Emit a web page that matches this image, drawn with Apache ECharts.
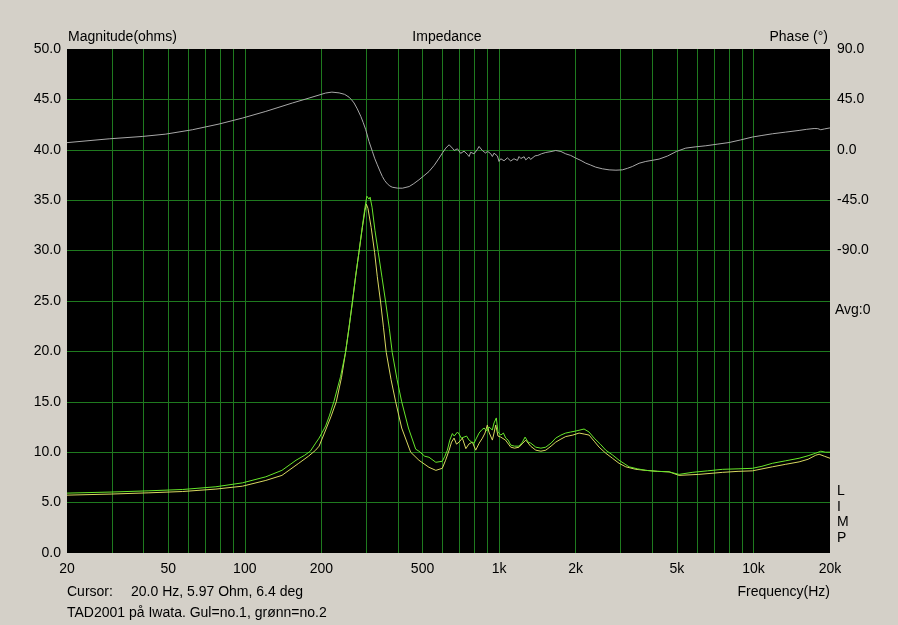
<!DOCTYPE html>
<html>
<head>
<meta charset="utf-8">
<script src="https://cdn.jsdelivr.net/npm/echarts@6/dist/echarts.min.js"></script>
<style>
html,body{margin:0;padding:0;background:#d4d0c8;}
#c{width:898px;height:625px;}
</style>
</head>
<body>
<div id="c"></div>
<script>
// ---- data ----
const freqGrid = [30,40,50,60,70,80,90,100,200,300,400,500,600,700,800,900,1000,2000,3000,4000,5000,6000,7000,8000,9000,10000];
const freqLabels = [20,50,100,200,500,1000,2000,5000,10000,20000];
const ohmLabels = [0,5,10,15,20,25,30,35,40,45,50];
const ohmGrid = [5,10,15,20,25,30,35,40,45];
const phaseLabels = [90,45,0,-45,-90];

// Phase (deg) vs frequency (Hz)
const phase = [[20,6.4],[29.3,9.8],[39.5,11.9],[48.9,14],[62.2,17.9],[79.2,23],[97.8,28.3],[121,34.3],[154,41.8],[179,46.2],[208,50.7],[220,51.5],[235,50.8],[247,49.5],[257,47],[263,44.6],[269,41.8],[277,36.5],[286,29.8],[292,24.5],[299,17.9],[308,7.4],[317.5,-1.5],[324,-7.5],[332,-13.4],[340,-19],[347.5,-23.8],[355,-27.5],[363.6,-30.4],[372,-32.3],[380,-33.4],[398,-34.2],[416.5,-34.3],[443,-32.8],[462,-30.2],[484,-26.8],[506,-23.2],[530,-19.4],[556,-13.8],[581,-7.4],[600,-2.5],[617,1.5],[626,3.2],[636,4.5],[645,2.8],[655,1.5],[666,-0.6],[676,-1.5],[686,0.9],[696,0],[706,-3.2],[717,-4.5],[728,-1.2],[740,0],[750,-4],[762,-6],[773,-2.2],[785,-1.5],[797,-3.6],[809,-4.5],[822,0.5],[834,3],[846,1.5],[859,-0.6],[872,-2.2],[886,-3],[899,-1.2],[913,-0.6],[927,-3.5],[941,-6],[955,-3],[970,-1.5],[985,-5.5],[999,-10.4],[1015,-8],[1030,-6.5],[1046,-9.8],[1062,-9],[1078,-7.2],[1095,-7],[1111,-10],[1128,-10.4],[1144,-8],[1160,-7.5],[1180,-9.5],[1198,-6],[1217,-7.8],[1235,-8.5],[1254,-6.2],[1273,-9],[1292,-7.6],[1310,-6.5],[1330,-8.6],[1352,-7.4],[1385,-5.4],[1420,-5],[1470,-3.5],[1526,-2.4],[1600,-1.6],[1670,-0.6],[1750,-1.5],[1828,-3.6],[1910,-5],[2002,-7.4],[2100,-9.6],[2191,-11.9],[2290,-13.6],[2399,-15.5],[2550,-17],[2707,-17.9],[2880,-18.2],[3052,-17.9],[3200,-16.5],[3342,-14.9],[3552,-12],[3773,-10.4],[4000,-9.4],[4256,-8.3],[4600,-5.5],[4977,-1.5],[5420,1.5],[5900,2.6],[6497,3.6],[7200,5],[8020,6.5],[8900,8.8],[9907,11.4],[10800,12.8],[11870,14.3],[13400,15.8],[15120,17.3],[16200,18.3],[17320,19],[17900,18.9],[18400,17.9],[19000,18.6],[19840,19.4],[20000,19.5]];

// Magnitude no.1 (Gul / yellow), ohms
const magYellow = [[20,5.74],[30,5.85],[42,5.97],[57,6.1],[77,6.34],[98,6.63],[121,7.2],[140,7.7],[163,8.9],[178,9.6],[190,10.2],[196,10.6],[208,12.2],[218,13.5],[229,15],[240,17.4],[249,19.9],[257,22.4],[265,24.9],[273,27.5],[281,29.8],[290,32.3],[297,34.0],[300.6,34.6],[305,34.2],[314,32.3],[324,29.8],[332,27.4],[342,24.9],[351,22.4],[360,19.9],[376,17.2],[392,15],[414,12.4],[449,10],[484,9.2],[530,8.5],[564,8.2],[598,8.4],[616,9.2],[636,10.2],[650,11.0],[665,11.4],[680,10.8],[696,11.0],[717,11.4],[740,10.35],[760,10.8],[785,11.0],[809,10.2],[835,10.9],[860,11.4],[880,11.9],[899,12.7],[912,12.0],[925,11.85],[941,11.2],[955,11.9],[970,12.7],[990,11.6],[1015,11.5],[1060,11.2],[1111,10.5],[1150,10.4],[1198,10.5],[1240,10.9],[1273,11.2],[1330,10.6],[1394,10.2],[1460,10.1],[1526,10.2],[1600,10.6],[1670,11.0],[1750,11.3],[1828,11.55],[1950,11.7],[2063,11.9],[2160,11.8],[2258,11.7],[2364,11.1],[2473,10.5],[2627,9.9],[2789,9.4],[2963,8.9],[3148,8.55],[3450,8.3],[3773,8.2],[4200,8.1],[4660,8.05],[5102,7.7],[6100,7.8],[7550,8.0],[8700,8.1],[9907,8.15],[11870,8.55],[13400,8.8],[15120,9.04],[16400,9.3],[17580,9.7],[18120,9.8],[19000,9.6],[20000,9.4]];

// Magnitude no.2 (grønn / green), ohms
const magGreen = [[20,5.94],[30,6.05],[42,6.17],[57,6.3],[77,6.57],[98,6.96],[121,7.56],[140,8.2],[159,9.2],[172,9.7],[181,10.1],[190,10.9],[196,11.4],[208,12.6],[215,13.6],[224,15],[238,17.5],[249,19.9],[257,22.3],[265,24.9],[273,27.5],[281,29.8],[290,32.4],[297,34.3],[302,35.4],[305,35.5],[308,35.1],[311,35.3],[316.6,34.3],[325,32],[335,29.8],[346.6,27.3],[358,24.9],[370,22.3],[380,19.9],[397,17.2],[414,15],[440,12.4],[470,10.3],[484,10.1],[510,9.6],[530,9.5],[564,9.0],[598,9.1],[612,9.6],[626,10.2],[640,11.2],[655,11.85],[666,11.6],[676,11.6],[686,12.0],[696,11.8],[710,11.4],[728,11.5],[745,11.6],[762,11.2],[780,11.0],[797,10.9],[815,11.4],[834,11.9],[853,12.2],[873,12.4],[893,12.1],[913,12.5],[940,12.2],[955,12.9],[975,13.4],[990,12.0],[1015,11.7],[1040,11.9],[1062,11.4],[1085,11.2],[1111,10.7],[1150,10.6],[1198,10.6],[1235,11.0],[1265,11.5],[1300,11.0],[1332,10.9],[1394,10.5],[1460,10.4],[1526,10.5],[1600,10.9],[1670,11.4],[1750,11.7],[1828,11.9],[1910,12.0],[2002,12.1],[2080,12.2],[2158,12.3],[2258,12.0],[2364,11.4],[2500,10.8],[2627,10.2],[2800,9.7],[2963,9.2],[3245,8.55],[3500,8.35],[3773,8.2],[4200,8.1],[4660,8.05],[5102,7.8],[5739,8.0],[6600,8.15],[7550,8.3],[8700,8.35],[9907,8.4],[10800,8.6],[11870,8.9],[13400,9.15],[15120,9.4],[16400,9.65],[17580,9.9],[18400,10.1],[19200,10.0],[20000,10.0]];

// ---- chart ----
const FONT = "'Liberation Sans', Arial, sans-serif";
const GRIDC = '#1f7a1f';
const chart = echarts.init(document.getElementById('c'), null, {renderer:'canvas'});
const txt = (x, y, s, align) => ({type:'text', x:x, y:y, style:{text:s, fill:'#000', font:'14px ' + FONT, textAlign:align||'left', textVerticalAlign:'middle'}, silent:true});

chart.setOption({
  animation:false,
  backgroundColor:'#d4d0c8',
  textStyle:{fontFamily:FONT},
  grid:{left:67, right:68, top:49, bottom:72, show:true, backgroundColor:'#000', borderWidth:0},
  xAxis:{
    type:'log', logBase:10, min:20, max:20000,
    axisLine:{show:false},
    axisTick:{show:false, customValues:freqGrid},
    splitLine:{show:true, lineStyle:{color:GRIDC, width:1}},
    minorTick:{show:false}, minorSplitLine:{show:false},
    axisLabel:{customValues:freqLabels, color:'#000', fontSize:14, fontFamily:FONT, margin:9,
      formatter:v => v >= 1000 ? (v/1000) + 'k' : String(v)}
  },
  yAxis:[{
    type:'value', min:0, max:50, interval:5, position:'left',
    axisLine:{show:false},
    axisTick:{show:false, customValues:ohmGrid},
    splitLine:{show:true, lineStyle:{color:GRIDC, width:1}},
    axisLabel:{customValues:ohmLabels, color:'#000', fontSize:14, fontFamily:FONT, margin:6, formatter:v => v.toFixed(1)}
  },{
    type:'value', min:-360, max:90, interval:45, position:'right',
    axisLine:{show:false}, axisTick:{show:false},
    splitLine:{show:false},
    axisLabel:{customValues:phaseLabels, color:'#000', fontSize:14, fontFamily:FONT, margin:7, formatter:v => v.toFixed(1)}
  }],
  series:[
    {type:'line', name:'Phase', yAxisIndex:1, data:phase, showSymbol:false, symbol:'none', lineStyle:{color:'#a8a8a8', width:1}, silent:true},
    {type:'line', name:'Gul=no.1', yAxisIndex:0, data:magYellow, showSymbol:false, symbol:'none', lineStyle:{color:'#d8d860', width:1}, silent:true},
    {type:'line', name:'grønn=no.2', yAxisIndex:0, data:magGreen, showSymbol:false, symbol:'none', lineStyle:{color:'#66e62a', width:1}, silent:true}
  ],
  graphic:[
    txt(68, 37, 'Magnitude(ohms)'),
    txt(447, 37, 'Impedance', 'center'),
    txt(828, 37, 'Phase (°)', 'right'),
    txt(835, 310, 'Avg:0'),
    txt(837, 491, 'L'),
    txt(837, 507, 'I'),
    txt(837, 522, 'M'),
    txt(837, 538, 'P'),
    txt(67, 592, 'Cursor:'),
    txt(131, 592, '20.0 Hz, 5.97 Ohm, 6.4 deg'),
    txt(830, 592, 'Frequency(Hz)', 'right'),
    txt(67, 613, 'TAD2001 på Iwata. Gul=no.1, grønn=no.2')
  ]
});
</script>
</body>
</html>
